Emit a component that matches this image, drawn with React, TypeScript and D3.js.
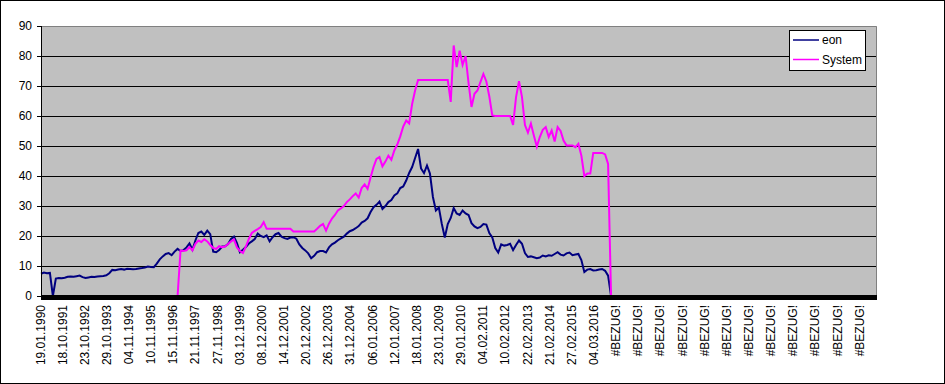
import React, { useRef, useEffect } from "react";
import { select, scaleLinear, line } from "d3";

// category labels along the x axis (one every ROWS_PER_LABEL rows)
const xLabels = [
  "19.01.1990", "18.10.1991", "23.10.1992", "29.10.1993", "04.11.1994", "10.11.1995",
  "15.11.1996", "21.11.1997", "27.11.1998", "03.12.1999", "08.12.2000", "14.12.2001",
  "20.12.2002", "26.12.2003", "31.12.2004", "06.01.2006", "12.01.2007", "18.01.2008",
  "23.01.2009", "29.01.2010", "04.02.2011", "10.02.2012", "22.02.2013", "21.02.2014",
  "27.02.2015", "04.03.2016",
  "#BEZUG!", "#BEZUG!", "#BEZUG!", "#BEZUG!", "#BEZUG!", "#BEZUG!",
  "#BEZUG!", "#BEZUG!", "#BEZUG!", "#BEZUG!", "#BEZUG!", "#BEZUG!",
];

const yTicks = [0, 10, 20, 30, 40, 50, 60, 70, 80, 90];

const ROWS_PER_LABEL = 261;
const TOTAL_ROWS = 9855;
const SAMPLE_ROWS = 35; // one value read every 35 rows

// eon, starting at row 0
const eonValues = [
  7.4, 7.8, 7.6, 7.7, 0, 5.8, 6.0, 5.9, 6.1, 6.4,
  6.5, 6.4, 6.6, 6.8, 6.3, 6.0, 6.2, 6.4, 6.3, 6.5,
  6.6, 6.7, 6.9, 7.6, 8.7, 8.6, 8.8, 9.0, 8.8, 9.1,
  9.0, 8.9, 9.0, 9.2, 9.3, 9.5, 9.8, 9.7, 9.6, 10.8,
  12.2, 13.2, 14.0, 14.3, 13.6, 14.8, 15.7, 15.0, 15.3, 16.2,
  17.5, 15.4, 18.5, 21.0, 21.5, 20.4, 21.8, 20.6, 14.8, 14.6,
  15.3, 16.5, 16.6, 17.3, 19.0, 19.8, 17.6, 14.6, 15.4, 16.3,
  17.5, 18.2, 19.0, 20.8, 20.0, 19.6, 20.2, 18.2, 19.6, 20.6,
  21.0, 19.8, 19.3, 19.0, 19.5, 19.6, 19.1, 17.2, 16.0, 15.2,
  14.2, 12.6, 13.4, 14.6, 15.0, 15.0, 14.5, 16.2, 17.2, 17.8,
  18.6, 19.2, 19.8, 20.8, 21.6, 22.0, 22.6, 23.3, 24.5, 25.0,
  25.9, 28.0, 29.6, 30.4, 31.5, 29.0, 30.0, 31.3, 32.0, 33.5,
  34.2, 36.0, 36.5, 38.5, 41.0, 43.0, 46.0, 49.0, 42.5, 41.0,
  43.5, 40.8, 33.0, 28.5, 29.5, 24.0, 19.5, 24.0, 26.0, 29.3,
  27.5, 27.0, 28.5, 27.5, 27.0, 24.3, 23.2, 22.6, 23.0, 24.0,
  23.8, 21.0, 19.5, 16.0, 14.5, 17.2, 16.8, 17.0, 17.4, 15.3,
  17.0, 18.5, 17.4, 14.3, 13.0, 13.2, 12.9, 12.6, 12.8, 13.5,
  13.2, 13.6, 13.4, 14.0, 14.6, 13.8, 13.5, 14.2, 14.5, 13.6,
  13.8, 14.0, 12.0, 8.0, 8.8, 9.0, 8.5, 8.6, 8.8, 9.0,
  8.4, 6.8, 0,
];

// System, starting at sample 46
const systemStart = 46;
const systemValues = [
  0, 15.2, 15.0, 15.2, 16.3, 15.2, 17.4, 18.5, 18.0, 18.9,
  18.2, 17.0, 16.0, 15.7, 16.6, 16.3, 16.5, 17.3, 18.2, 18.8,
  16.2, 15.0, 14.3, 16.5, 19.0, 21.0, 21.7, 22.3, 23.0, 24.6,
  22.4, 22.4, 22.4, 22.4, 22.4, 22.4, 22.4, 22.4, 22.4,
  21.5, 21.5, 21.5, 21.5, 21.5, 21.5, 21.5, 21.5,
  22.4, 23.4, 24.0, 21.8, 24.1, 25.8, 27.0, 28.5, 29.2, 30.0,
  31.3, 32.2, 33.3, 34.2, 32.8, 36.0, 37.2, 35.7, 39.5, 43.0,
  45.7, 46.3, 43.2, 44.8, 46.8, 45.4, 48.5, 50.5, 53.2, 56.5,
  58.5, 57.5, 64.0, 68.5, 72.0,
  72, 72, 72, 72, 72, 72, 72, 72, 72, 72,
  64.7, 83.5, 76.3, 81.8, 77.0, 80.0, 71.0, 63.0, 67.4, 68.5,
  71.3, 74.0, 71.5, 66.5, 60.2,
  60.0, 60.0, 60.0, 60.0, 60.0, 60.0,
  57.0, 66.3, 71.6, 66.3, 57.0, 54.5, 57.5, 53.5, 49.8, 53.0,
  55.4, 56.3, 53.0, 55.2, 51.5, 56.3, 55.0, 51.8, 50.2, 50.2,
  50.2, 49.6, 50.7, 46.8, 40.0, 40.8, 40.8, 47.7, 47.7, 47.7,
  47.7, 47.2, 44.0, 0,
];

const seriesNames = ["eon", "System"];
const seriesColors = ["#000080", "#FF00FF"];

const WIDTH = 945;
const HEIGHT = 384;
const FONT = "'Liberation Sans', Arial, sans-serif";

function App() {
  const svgRef = useRef(null);

  useEffect(() => {
    const svg = select(svgRef.current);
    svg.selectAll("*").remove();

    const left = 41, right = 877, top = 26, bottom = 296;
    const xscale = scaleLinear().domain([0, TOTAL_ROWS]).range([left, right]);
    const yscale = scaleLinear().domain([0, 90]).range([bottom, top]);

    // chart frame
    svg.append("rect")
      .attr("x", 0.5).attr("y", 0.5)
      .attr("width", WIDTH - 1).attr("height", HEIGHT - 1)
      .attr("fill", "white").attr("stroke", "black");

    // plot area
    svg.append("rect")
      .attr("x", left).attr("y", top)
      .attr("width", right - left).attr("height", bottom - top)
      .attr("fill", "#C0C0C0");

    svg.append("g")
      .selectAll("line")
      .data(yTicks.filter(t => t > 0 && t < 90))
      .join("line")
      .attr("x1", left).attr("x2", right)
      .attr("y1", d => Math.round(yscale(d)) + 0.5)
      .attr("y2", d => Math.round(yscale(d)) + 0.5)
      .attr("stroke", "black");

    svg.append("path")
      .attr("d", `M${left},${top + 0.5}H${right - 0.5}V${bottom}`)
      .attr("fill", "none").attr("stroke", "#808080");

    // series
    const eonData = eonValues.map((v, i) => ({ row: i * SAMPLE_ROWS, v }));
    const sysData = systemValues.map((v, i) => ({ row: (i + systemStart) * SAMPLE_ROWS, v }));
    const myLine = line<any>()
      .x(d => xscale(d.row))
      .y(d => yscale(d.v));

    svg.append("path")
      .datum(eonData)
      .attr("d", myLine)
      .attr("fill", "none")
      .attr("stroke", seriesColors[0])
      .attr("stroke-width", 2)
      .attr("stroke-linejoin", "miter");

    svg.append("path")
      .datum(sysData)
      .attr("d", myLine)
      .attr("fill", "none")
      .attr("stroke", seriesColors[1])
      .attr("stroke-width", 2);

    // y axis
    svg.append("line")
      .attr("x1", left + 0.5).attr("x2", left + 0.5)
      .attr("y1", top).attr("y2", bottom)
      .attr("stroke", "black");

    const ygrp = svg.append("g");
    ygrp.selectAll("line")
      .data(yTicks)
      .join("line")
      .attr("x1", left - 4).attr("x2", left)
      .attr("y1", d => Math.round(yscale(d)) + 0.5)
      .attr("y2", d => Math.round(yscale(d)) + 0.5)
      .attr("stroke", "black");
    ygrp.selectAll("text")
      .data(yTicks)
      .join("text")
      .attr("x", 32)
      .attr("y", d => yscale(d))
      .attr("text-anchor", "end")
      .attr("dominant-baseline", "central")
      .attr("font-family", FONT)
      .attr("font-size", 12)
      .text(d => d);

    // x axis: thick black band at zero
    svg.append("rect")
      .attr("x", left).attr("y", bottom - 1)
      .attr("width", right - left).attr("height", 5)
      .attr("fill", "black");

    svg.append("g")
      .selectAll("text")
      .data(xLabels)
      .join("text")
      .attr("transform", (d, i) => `translate(${xscale(i * ROWS_PER_LABEL) - 0.5},305) rotate(-90)`)
      .attr("text-anchor", "end")
      .attr("dominant-baseline", "central")
      .attr("font-family", FONT)
      .attr("font-size", 12)
      .text(d => d);

    // legend
    const lg = svg.append("g");
    lg.append("rect")
      .attr("x", 789.5).attr("y", 30.5)
      .attr("width", 76).attr("height", 40)
      .attr("fill", "white").attr("stroke", "black");
    seriesNames.forEach((name, i) => {
      const cy = 40 + i * 19.5;
      lg.append("line")
        .attr("x1", 793).attr("x2", 819)
        .attr("y1", cy).attr("y2", cy)
        .attr("stroke", seriesColors[i]).attr("stroke-width", 1.5);
      lg.append("text")
        .attr("x", 822).attr("y", cy)
        .attr("dominant-baseline", "central")
        .attr("font-family", FONT)
        .attr("font-size", 12)
        .text(name);
    });
  }, []);

  return (
    <div style={{ position: "absolute", left: 0, top: 0 }}>
      <svg ref={svgRef} width={WIDTH} height={HEIGHT} style={{ display: "block" }}></svg>
    </div>
  );
}

export default App;
